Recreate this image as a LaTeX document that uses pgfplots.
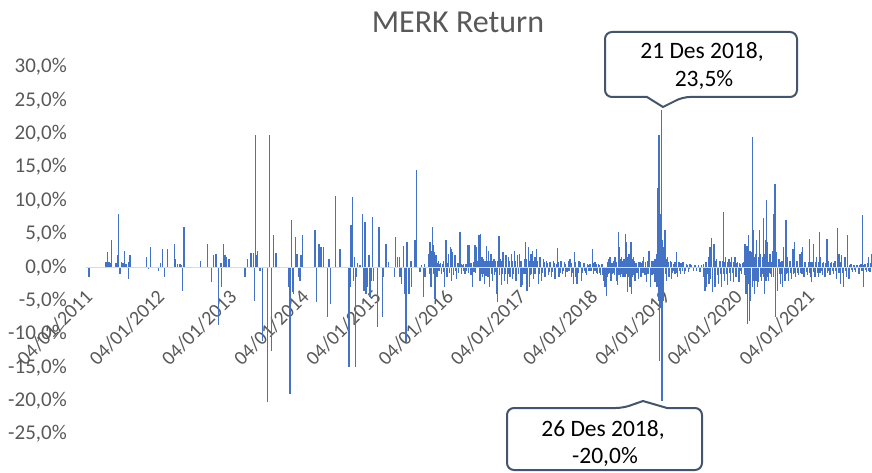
\documentclass[border=0pt]{standalone}
\usepackage{pgfplots}
\pgfplotsset{compat=1.18}
\usepackage{fontspec}
\setmainfont{Carlito}
\definecolor{barblue}{HTML}{4472C4}
\definecolor{txtgray}{HTML}{595959}
\definecolor{zline}{HTML}{D9D9D9}
\definecolor{callout}{HTML}{44546A}
\begin{document}
\begin{tikzpicture}
\begin{axis}[
  at={(86pt,38pt)}, anchor=south west,
  scale only axis, width=786pt, height=367pt,
  xmin=-0.055, xmax=10.831, ymin=-25, ymax=30,
  axis x line=middle, axis y line=left,
  axis line style={draw=none},
  major tick length=0pt,
  hide obscured x ticks=false,
  xtick={0,1,2,3,4,5,6,7,8,9,10},
  xticklabels={04/01/2011,04/01/2012,04/01/2013,04/01/2014,04/01/2015,04/01/2016,04/01/2017,04/01/2018,04/01/2019,04/01/2020,04/01/2021},
  ytick={-25,-20,-15,-10,-5,0,5,10,15,20,25,30},
  yticklabels={{-25,0\%},{-20,0\%},{-15,0\%},{-10,0\%},{-5,0\%},{0,0\%},{5,0\%},{10,0\%},{15,0\%},{20,0\%},{25,0\%},{30,0\%}},
  tick label style={font=\fontsize{21}{25}\selectfont, text=txtgray},
  xticklabel style={font=\fontsize{20}{24}\selectfont, yshift=-26pt, xshift=-1pt, rotate=45, anchor=east, inner sep=0pt},
  yticklabel style={anchor=east, inner sep=0pt, xshift=-19pt},
  /pgf/number format/assume math mode=true,
]
\addplot[ycomb, draw=barblue, line width=1.4pt, mark=none] table {
x y
-0.014 -1.5
0.217 0.8
0.231 0.8
0.245 2.3
0.259 0.8
0.272 0.8
0.286 0.7
0.300 4.0
0.360 0.6
0.379 1.8
0.392 7.9
0.416 -1.0
0.439 0.8
0.457 0.6
0.476 2.4
0.499 0.5
0.531 -1.7
0.540 0.8
0.554 1.8
0.785 1.5
0.808 -0.3
0.840 3.0
0.946 -0.5
0.974 0.6
1.007 2.8
1.030 -1.5
1.071 2.8
1.168 3.4
1.187 1.3
1.210 0.5
1.247 0.5
1.265 0.4
1.284 -3.5
1.302 6.0
1.533 1.0
1.630 3.4
1.685 -2.2
1.708 1.8
1.745 2.0
1.777 -8.7
1.814 0.6
1.824 -3.0
1.847 3.4
1.870 1.8
1.893 1.5
1.925 1.3
2.147 -1.5
2.179 1.3
2.230 2.2
2.262 2.2
2.281 -5.0
2.295 19.8
2.308 1.8
2.322 2.4
2.355 -0.5
2.387 -11.0
2.456 -20.2
2.484 19.8
2.516 -12.5
2.544 4.8
2.576 2.2
2.756 -3.0
2.770 -19.0
2.793 7.0
2.802 -3.7
2.821 -4.0
2.849 4.5
2.867 2.0
2.886 -1.5
2.909 -2.0
2.922 1.8
2.946 4.8
3.116 5.5
3.139 -5.2
3.172 3.4
3.199 3.0
3.232 3.0
3.292 -7.5
3.310 1.3
3.333 -5.5
3.403 10.6
3.463 2.8
3.587 -15.0
3.601 -3.0
3.615 6.3
3.634 10.5
3.647 -2.0
3.661 1.5
3.680 -15.0
3.694 -1.5
3.707 0.6
3.740 0.4
3.777 7.9
3.795 -3.5
3.809 6.8
3.823 -4.0
3.841 -3.0
3.864 1.8
3.878 -4.5
3.892 -2.0
3.911 7.5
3.924 -2.0
3.984 -9.0
4.003 6.0
4.049 -7.5
4.063 -1.5
4.100 3.4
4.132 0.8
4.215 -1.5
4.234 4.5
4.261 1.5
4.285 1.5
4.294 -1.5
4.317 -2.5
4.340 3.2
4.363 -4.0
4.377 -11.2
4.391 3.8
4.409 -4.0
4.423 -4.0
4.446 1.0
4.455 -3.0
4.501 4.0
4.525 14.6
4.571 -0.7
4.594 0.3
4.617 -4.5
4.631 0.5
4.640 -1.5
4.686 2.0
4.695 0.8
4.700 -1.0
4.709 3.8
4.716 1.5
4.723 -3.0
4.731 2.5
4.740 6.0
4.748 2.8
4.755 3.3
4.762 -1.0
4.769 2.3
4.778 -4.7
4.785 1.2
4.792 1.8
4.799 -0.8
4.806 -1.5
4.815 0.6
4.824 1.0
4.835 -0.6
4.847 0.5
4.858 0.6
4.870 -1.0
4.884 0.5
4.898 1.0
4.905 -0.7
4.912 -3.0
4.921 1.0
4.930 4.0
4.937 -0.8
4.944 -1.5
4.955 0.7
4.967 2.0
4.978 -0.8
4.990 3.0
5.004 -2.0
5.009 2.8
5.016 1.0
5.023 2.3
5.037 -1.2
5.046 0.8
5.055 1.8
5.066 -0.6
5.078 -1.7
5.090 0.6
5.101 -0.8
5.112 0.7
5.124 5.3
5.136 0.5
5.147 -1.0
5.159 0.4
5.171 0.5
5.182 -0.6
5.194 -1.0
5.206 0.5
5.218 -0.5
5.231 3.3
5.240 -0.8
5.249 3.3
5.263 0.6
5.277 -1.2
5.286 0.7
5.295 -3.0
5.309 0.8
5.320 -0.7
5.332 3.3
5.343 -0.9
5.355 3.0
5.367 1.0
5.379 3.8
5.387 4.8
5.394 -1.2
5.401 -2.0
5.410 5.0
5.416 -1.0
5.422 0.8
5.428 1.5
5.434 -1.5
5.441 1.2
5.447 0.7
5.454 -1.0
5.461 -2.5
5.469 1.0
5.477 0.8
5.485 -1.3
5.494 3.2
5.500 1.0
5.505 -0.8
5.511 -1.5
5.517 2.5
5.526 1.0
5.535 -3.0
5.544 1.2
5.554 2.0
5.563 -1.0
5.572 -2.0
5.583 1.0
5.595 1.3
5.601 -1.2
5.607 -0.7
5.612 1.0
5.618 0.5
5.627 -1.5
5.637 -4.0
5.641 1.0
5.646 -5.2
5.655 1.5
5.664 4.6
5.673 -1.2
5.683 1.3
5.692 1.0
5.701 -2.7
5.710 -1.0
5.720 2.3
5.729 1.0
5.738 -2.0
5.749 -1.0
5.761 1.8
5.770 1.0
5.780 -2.5
5.787 -1.0
5.794 1.5
5.805 1.0
5.817 -1.5
5.828 -1.0
5.840 2.0
5.847 1.0
5.854 -1.7
5.865 -1.0
5.877 2.5
5.888 1.0
5.900 -2.0
5.911 -1.0
5.923 1.8
5.934 -1.0
5.946 2.0
5.957 1.0
5.969 -3.0
5.978 1.0
5.988 -2.7
6.001 -1.0
6.015 1.3
6.024 -1.0
6.034 3.8
6.043 1.2
6.052 -3.5
6.061 -1.0
6.071 3.0
6.080 1.0
6.089 -3.0
6.098 -1.2
6.108 2.0
6.117 -1.0
6.126 2.4
6.135 1.0
6.145 -1.7
6.154 -1.0
6.163 1.5
6.174 -1.0
6.186 2.8
6.197 1.0
6.209 -2.5
6.220 -1.0
6.232 1.5
6.243 1.0
6.255 -2.0
6.266 -0.8
6.278 1.3
6.289 0.8
6.301 -1.5
6.313 -0.8
6.325 1.0
6.336 0.6
6.348 -1.2
6.360 -0.7
6.371 0.8
6.382 0.6
6.394 -1.5
6.405 -0.7
6.417 1.0
6.428 0.6
6.440 -1.7
6.451 -0.8
6.463 0.5
6.477 2.9
6.486 0.8
6.495 -1.5
6.509 -0.8
6.523 1.0
6.532 0.6
6.542 -1.0
6.555 -0.6
6.569 0.8
6.578 0.5
6.588 -1.5
6.606 -0.7
6.625 1.0
6.636 -0.6
6.648 1.3
6.660 0.6
6.671 -1.5
6.682 -0.8
6.694 -2.5
6.708 2.3
6.717 0.8
6.726 -1.5
6.735 -0.8
6.745 -2.5
6.758 -0.8
6.772 1.0
6.784 0.6
6.796 0.8
6.809 -2.0
6.820 -0.8
6.832 0.5
6.844 0.6
6.856 -0.5
6.867 -0.8
6.879 -1.2
6.890 0.5
6.902 0.3
6.913 -0.6
6.925 0.5
6.941 -0.6
6.957 2.8
6.966 0.6
6.976 -1.0
6.985 -0.6
6.994 0.8
7.004 -0.6
7.013 0.5
7.022 -0.8
7.031 -1.0
7.040 0.5
7.049 0.3
7.060 -0.8
7.072 -1.2
7.084 0.5
7.096 0.5
7.105 -1.2
7.114 -2.0
7.124 -1.5
7.133 -3.0
7.145 -2.0
7.156 -4.3
7.163 -1.5
7.170 0.8
7.179 -1.0
7.188 1.2
7.195 -0.8
7.202 1.5
7.209 0.6
7.216 -2.0
7.224 -1.0
7.232 0.6
7.240 -1.0
7.248 0.5
7.254 1.0
7.260 -0.8
7.266 -1.2
7.272 1.5
7.283 0.8
7.295 -2.0
7.302 -1.0
7.308 -2.7
7.318 5.2
7.325 -1.2
7.332 3.0
7.338 1.2
7.345 -1.5
7.355 -1.0
7.364 1.5
7.370 1.0
7.376 -1.0
7.381 -1.5
7.387 1.0
7.394 1.2
7.401 -1.0
7.410 -1.5
7.419 4.9
7.426 -1.0
7.433 3.8
7.440 1.5
7.447 -3.7
7.456 -1.5
7.465 2.0
7.472 1.2
7.479 -3.0
7.486 -1.5
7.493 3.8
7.497 1.5
7.502 -4.0
7.508 -1.5
7.514 0.8
7.520 1.2
7.525 1.5
7.531 -1.2
7.537 -1.0
7.543 1.0
7.549 -2.0
7.555 -1.0
7.560 0.6
7.566 -0.8
7.572 0.6
7.583 -0.8
7.595 -1.7
7.606 0.8
7.618 0.8
7.625 -0.8
7.632 -1.5
7.641 0.6
7.650 1.0
7.657 -0.8
7.664 1.5
7.675 -0.8
7.687 -1.2
7.698 0.8
7.710 -2.2
7.717 -1.0
7.724 1.0
7.733 -1.0
7.742 2.5
7.751 1.0
7.761 -3.0
7.770 -1.2
7.779 0.5
7.784 1.0
7.790 -1.2
7.796 0.8
7.802 1.0
7.808 -0.8
7.814 -1.0
7.820 1.2
7.826 -2.2
7.832 -1.5
7.838 1.2
7.843 -1.5
7.849 2.0
7.855 -3.0
7.862 11.8
7.867 -3.0
7.872 8.0
7.876 -5.0
7.881 19.8
7.885 6.0
7.890 -14.0
7.895 -6.0
7.899 8.0
7.904 5.0
7.909 -4.5
7.913 -6.0
7.918 23.5
7.922 -20.0
7.927 4.0
7.932 -5.0
7.936 3.0
7.941 -5.0
7.946 -3.5
7.950 1.5
7.955 2.0
7.964 5.5
7.973 4.8
7.980 -1.0
7.987 -2.0
7.994 1.2
8.001 1.5
8.010 -0.8
8.014 0.8
8.019 -1.5
8.028 -0.8
8.038 1.0
8.047 0.8
8.056 -1.7
8.068 -0.8
8.079 0.5
8.090 -0.6
8.097 0.8
8.103 -1.0
8.112 0.8
8.121 2.3
8.130 -0.8
8.139 -1.5
8.149 0.6
8.158 0.8
8.167 -0.6
8.176 -1.0
8.186 0.6
8.195 0.5
8.204 -0.6
8.213 0.8
8.222 0.5
8.232 -1.0
8.248 -0.5
8.264 0.5
8.276 0.3
8.287 -0.7
8.299 -0.3
8.310 0.5
8.333 0.3
8.356 -0.5
8.380 0.4
8.403 -0.5
8.426 0.3
8.449 -0.7
8.472 0.4
8.495 0.5
8.506 -1.5
8.518 -3.5
8.530 0.8
8.541 -3.0
8.552 -1.0
8.564 1.5
8.575 -2.5
8.587 3.0
8.598 -1.8
8.610 4.3
8.624 -3.7
8.634 1.0
8.643 3.5
8.657 -3.0
8.668 1.0
8.680 1.3
8.692 -1.2
8.703 -2.5
8.715 0.8
8.726 1.0
8.738 -1.0
8.749 -3.0
8.760 1.0
8.772 8.3
8.779 -1.0
8.786 -2.0
8.795 0.8
8.804 1.5
8.815 -1.0
8.827 -2.7
8.839 0.8
8.851 1.3
8.860 -0.8
8.869 -2.0
8.878 0.8
8.887 1.5
8.898 -0.8
8.910 -2.2
8.922 0.8
8.934 1.5
8.948 -1.5
8.960 0.6
8.971 0.8
8.980 -0.8
8.989 -2.2
8.999 0.6
9.008 0.5
9.017 -0.6
9.026 -1.0
9.038 0.6
9.049 0.8
9.061 -1.2
9.073 3.5
9.086 -4.0
9.093 2.0
9.100 3.2
9.109 -8.5
9.119 4.8
9.126 -2.5
9.133 -8.0
9.140 2.5
9.146 -5.0
9.155 1.5
9.165 2.3
9.172 -3.0
9.179 19.5
9.186 -2.0
9.193 5.5
9.200 -1.5
9.206 -4.0
9.213 1.5
9.220 2.0
9.227 -2.0
9.234 4.0
9.241 -1.5
9.248 -3.0
9.255 1.5
9.262 -2.2
9.269 1.5
9.276 5.5
9.283 -1.5
9.289 2.0
9.296 -1.0
9.303 -2.0
9.315 1.5
9.320 -1.0
9.326 7.3
9.333 -1.5
9.340 -4.0
9.347 2.0
9.354 4.0
9.361 -2.0
9.368 10.0
9.375 -1.5
9.382 3.8
9.389 -1.0
9.396 -2.0
9.402 0.8
9.408 1.2
9.414 -0.8
9.419 2.0
9.430 -1.0
9.436 0.8
9.442 -1.5
9.451 1.0
9.460 2.5
9.467 -1.5
9.474 8.0
9.481 2.0
9.488 12.5
9.497 -7.5
9.504 1.5
9.511 2.3
9.518 -1.5
9.525 -3.5
9.534 1.0
9.543 1.3
9.549 -0.8
9.555 -1.0
9.561 0.8
9.567 -2.5
9.578 1.0
9.584 -1.0
9.590 -3.0
9.599 1.0
9.608 3.0
9.618 -1.0
9.627 -2.0
9.634 1.0
9.640 7.0
9.647 -1.0
9.654 1.5
9.663 -0.8
9.673 -2.0
9.685 0.8
9.696 1.0
9.708 -0.8
9.719 -1.7
9.728 0.8
9.737 2.8
9.746 -1.0
9.756 3.8
9.765 -0.8
9.774 -1.5
9.784 0.8
9.793 1.0
9.802 -0.8
9.811 -1.2
9.823 0.8
9.834 2.0
9.845 -0.8
9.857 2.3
9.864 -1.0
9.871 3.0
9.880 -0.8
9.890 -1.5
9.901 0.8
9.913 0.8
9.927 -0.7
9.940 -1.2
9.952 0.8
9.964 4.2
9.970 -0.8
9.977 -1.5
9.986 0.8
9.996 -2.2
10.008 0.8
10.019 3.5
10.030 -0.7
10.042 -1.5
10.053 0.8
10.065 1.5
10.076 -0.8
10.088 -1.5
10.095 0.8
10.102 5.2
10.111 -0.8
10.121 1.5
10.133 -0.6
10.144 -1.2
10.153 0.6
10.162 0.8
10.171 -0.6
10.181 -1.5
10.194 0.6
10.208 4.2
10.217 -0.8
10.227 1.0
10.238 -0.6
10.250 -1.2
10.261 0.6
10.273 0.8
10.284 -0.6
10.296 -1.0
10.307 0.6
10.319 1.0
10.330 -0.6
10.342 -1.7
10.349 0.8
10.356 5.8
10.365 -0.8
10.374 2.0
10.383 -0.8
10.393 -2.5
10.402 0.8
10.411 1.8
10.422 -0.8
10.434 -3.0
10.446 0.8
10.458 1.5
10.469 -0.6
10.481 -1.5
10.488 0.8
10.495 4.8
10.504 -0.8
10.513 -1.7
10.527 0.4
10.541 0.5
10.550 -0.4
10.559 -0.7
10.573 0.3
10.587 0.3
10.596 -0.4
10.605 -0.7
10.619 0.3
10.633 0.4
10.642 -0.4
10.651 -1.0
10.665 0.3
10.679 0.5
10.690 -0.5
10.702 7.8
10.711 -3.0
10.722 0.4
10.734 0.5
10.745 -0.4
10.757 -0.7
10.769 0.6
10.781 1.5
10.792 -0.5
10.804 -0.7
10.815 0.6
10.827 2.0
};
\draw[zline, line width=1.2pt] (axis cs:-0.055,0) -- (axis cs:10.831,0);
\end{axis}
\node[font=\fontsize{32}{38}\selectfont, text=txtgray] at (458pt,450pt) {MERK Return};
\draw[callout, line width=2pt, fill=white, rounded corners=7pt] (647pt,375pt) -- (605pt,375pt) -- (605pt,440pt) -- (797pt,440pt) -- (797pt,375pt) -- (683pt,375pt) [sharp corners] -- (663pt,365pt) -- cycle;
\node[font=\fontsize{23.5}{28}\selectfont, text=black] at (702pt,420pt) {21 Des 2018,};
\node[font=\fontsize{23.5}{28}\selectfont, text=black] at (704pt,392pt) {23,5\%};
\draw[callout, line width=2pt, fill=white, rounded corners=7pt] (667pt,64pt) -- (702pt,64pt) -- (702pt,2pt) -- (507pt,2pt) -- (507pt,64pt) -- (623pt,64pt) [sharp corners] -- (643pt,71pt) -- cycle;
\node[font=\fontsize{23.5}{28}\selectfont, text=black] at (603pt,42pt) {26 Des 2018,};
\node[font=\fontsize{23.5}{28}\selectfont, text=black] at (605pt,15pt) {-20,0\%};
\pgfresetboundingbox
\path[use as bounding box] (0pt,0pt) rectangle (872pt,472pt);
\end{tikzpicture}
\end{document}
